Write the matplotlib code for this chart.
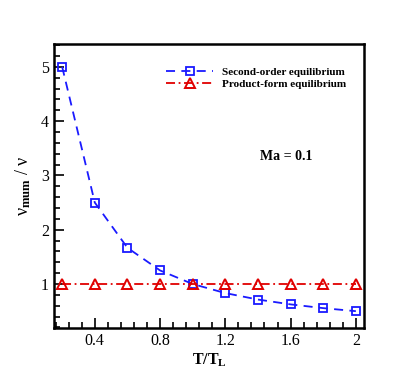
import matplotlib
matplotlib.use("Agg")
import matplotlib.pyplot as plt
from matplotlib.ticker import MultipleLocator

T_ratio = [0.2, 0.4, 0.6, 0.8, 1.0, 1.2, 1.4, 1.6, 1.8, 2.0]
second_order = [5.0, 2.5, 1.667, 1.25, 1.0, 0.833, 0.714, 0.625, 0.556, 0.5]
product_form = [1.0, 1.0, 1.0, 1.0, 1.0, 1.0, 1.0, 1.0, 1.0, 1.0]
series_labels = ["Second-order equilibrium", "Product-form equilibrium"]
x_ticks = [0.4, 0.8, 1.2, 1.6, 2.0]
x_tick_labels = ["0.4", "0.8", "1.2", "1.6", "2"]
y_ticks = [1, 2, 3, 4, 5]

plt.rcParams['font.family'] = ['Liberation Serif', 'DejaVu Serif']
plt.rcParams['mathtext.fontset'] = 'custom'
plt.rcParams['mathtext.rm'] = 'Liberation Serif'
plt.rcParams['mathtext.bf'] = 'Liberation Serif:bold'
plt.rcParams['mathtext.it'] = 'Liberation Serif:italic'

fig = plt.figure(figsize=(4.15, 3.69), dpi=100)
ax = fig.add_axes([54/415, 1-328/369, 310/415, 284/369])

ax.plot(T_ratio, second_order, color='#1a1aff', lw=1.3, ls=(0, (5, 3.5)),
        marker='s', ms=6, mfc='none', mec='#1a1aff', mew=1.3, label=series_labels[0])
ax.plot(T_ratio, product_form, color='#e00000', lw=1.3, ls=(0, (5, 2, 1, 2)),
        marker='^', ms=6.5, mfc='none', mec='#e00000', mew=1.4, label=series_labels[1])

ax.set_xlim(0.15, 2.05)
ax.set_ylim(0.19, 5.42)
ax.set_xticks(x_ticks)
ax.set_xticklabels(x_tick_labels)
ax.set_yticks(y_ticks)
ax.xaxis.set_minor_locator(MultipleLocator(0.08))
ax.yaxis.set_minor_locator(MultipleLocator(0.2))
ax.tick_params(which='both', direction='in', top=False, right=False, labelsize=11.5, width=1.2)
ax.tick_params(which='major', length=7)
ax.tick_params(which='minor', length=4)
for s in ax.spines.values():
    s.set_linewidth(1.8)

ax.set_xlabel(r'$\mathbf{T/T}_{\mathbf{L}}$', fontsize=11.5, labelpad=2)
ax.set_ylabel(r'$\mathrm{\nu}_{\mathbf{mum}}\ \mathrm{/}\ \mathrm{\nu}$', fontsize=13, labelpad=6)

leg = ax.legend(loc='upper left', bbox_to_anchor=(0.33, 0.955), frameon=False,
                prop={'weight': 'bold', 'size': 8}, handlelength=4.2,
                labelspacing=0.2, handletextpad=0.8)

ax.text(0.75, 0.605, 'Ma = 0.1', transform=ax.transAxes, ha='center', va='center',
        fontsize=10, fontweight='bold')

fig.savefig('out.png', dpi=100)
